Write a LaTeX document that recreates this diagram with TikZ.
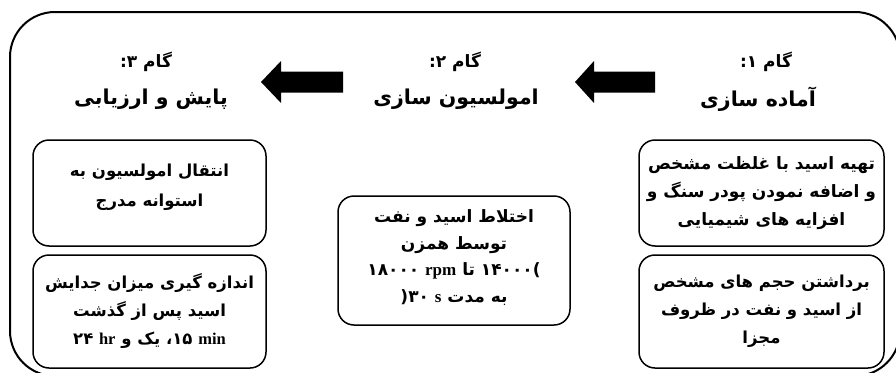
\documentclass[tikz,border=0pt]{standalone}
\usepackage{fontspec}
\TeXXeTstate=1
\newfontfamily\fa[Script=Arabic]{DejaVu Sans}
\newfontfamily\latf{Liberation Serif}
\newcommand\rl[1]{\beginR #1\endR}
\newcommand\lw[1]{{\latf\bfseries #1}}
\newcommand\dg[1]{\beginL #1\endL}
\begin{document}
\begin{tikzpicture}[x=1pt,y=-1pt,
  steptitle/.style={font=\fa\bfseries\fontsize{17}{20}\selectfont, inner sep=0pt},
  bigtitle/.style={font=\fa\bfseries\fontsize{20.5}{26}\selectfont, inner sep=0pt},
  stepbox/.style={draw, line width=1.5pt, rounded corners=16pt, inner sep=0pt},
  boxtext/.style={align=center, inner sep=0pt, font=\fa\bfseries\fontsize{17}{28}\selectfont},
  blockarrow/.style={fill=black}]
\useasboundingbox (0,0) rectangle (896,372);
\draw[line width=2pt, rounded corners=45pt] (10,12) rectangle (900,376);

% titles
\node[steptitle] (t1a) at (766,62) {\rl{گام \dg{۱}:}};
\node[bigtitle]  (t1b) at (758,99) {\rl{آماده سازی}};
\node[steptitle] (t2a) at (455,62) {\rl{گام \dg{۲}:}};
\node[bigtitle]  (t2b) at (456,99) {\rl{امولسیون سازی}};
\node[steptitle] (t3a) at (146,62) {\rl{گام \dg{۳}:}};
\node[bigtitle]  (t3b) at (151,99) {\rl{پایش و ارزیابی}};

% block arrows
\coordinate (arrA) at (261,82);
\coordinate (arrB) at (575,82);
\fill[blockarrow] (arrA) -- ++(20,-21) -- ++(0,10.5) -- ++(62,0) -- ++(0,21) -- ++(-62,0) -- ++(0,10.5) -- cycle;
\fill[blockarrow] (arrB) -- ++(19,-21) -- ++(0,10.5) -- ++(61,0) -- ++(0,21) -- ++(-61,0) -- ++(0,10.5) -- cycle;

% step 1 boxes
\node[stepbox, minimum width=245pt, minimum height=106pt] (b1a) at (761.5,193) {};
\node[boxtext] (x1a) at (b1a.center)
  {\rl{تهیه اسید با غلظت مشخص}\\ \rl{و اضافه نمودن پودر سنگ و}\\ \rl{افزایه های شیمیایی}};
\node[stepbox, minimum width=245pt, minimum height=113pt] (b1b) at (761.5,311.5) {};
\node[boxtext, font=\fa\bfseries\fontsize{16.5}{28}\selectfont] (x1b) at (b1b.center)
  {\rl{برداشتن حجم های مشخص}\\ \rl{از اسید و نفت در ظروف}\\ \rl{مجزا}};

% step 2 box
\node[stepbox, minimum width=232pt, minimum height=129pt] (b2) at (454,260.5) {};
\node[boxtext, font=\fa\bfseries\fontsize{17}{26.7}\selectfont] (x2) at ([yshift=3pt]b2.center)
  {\rl{اختلاط اسید و نفت}\\ \rl{توسط همزن}\\
   \rl{\dg{)}\dg{۱۴۰۰۰} تا \dg{۱۸۰۰۰ \lw{rpm}}}\\
   \rl{به مدت \dg{۳۰ \lw{s}}\dg{(}}};

% step 3 boxes
\node[stepbox, minimum width=233pt, minimum height=106pt] (b3a) at (149.5,193) {};
\node[boxtext, font=\fa\bfseries\fontsize{16.5}{30}\selectfont] (x3a) at ([yshift=6pt]b3a.center)
  {\rl{انتقال امولسیون به}\\ \rl{استوانه مدرج}};
\node[stepbox, minimum width=233pt, minimum height=113pt] (b3b) at (149.5,311.5) {};
\node[boxtext, font=\fa\bfseries\fontsize{16.5}{28}\selectfont] (x3b) at (b3b.center)
  {\rl{اندازه گیری میزان جدایش}\\ \rl{اسید پس از گذشت}\\
   \rl{\dg{۱۵ \lw{min}}، یک و \dg{۲۴ \lw{hr}}}};
\end{tikzpicture}
\end{document}
